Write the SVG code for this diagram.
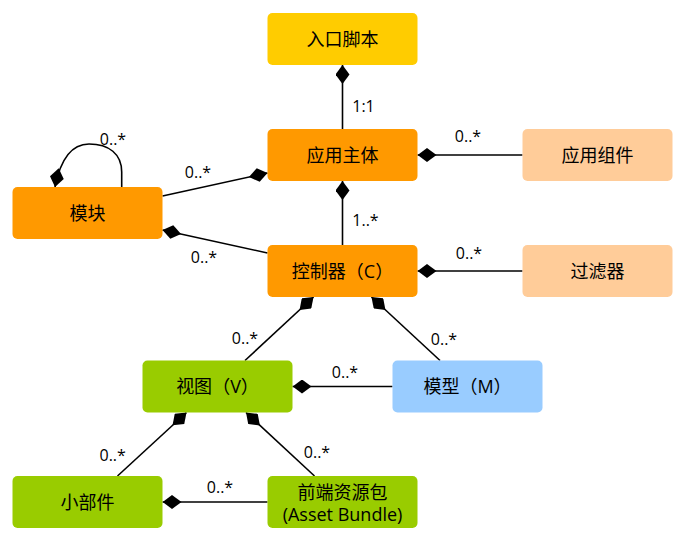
<svg xmlns="http://www.w3.org/2000/svg" width="683" height="549" viewBox="0 0 683 549">
<style>
.n text{font-family:"Open Sans","Noto Sans CJK SC",sans-serif;font-size:18px;fill:#000;text-anchor:middle}
.p{font-family:"Noto Sans CJK TC",sans-serif}
.lbl{font-family:"Open Sans","Noto Sans CJK SC",sans-serif;font-size:16px;fill:#000;text-anchor:middle}
.e{fill:none;stroke:#000;stroke-width:1.6;marker-start:url(#dia)}
</style>
<defs>
<marker id="dia" markerUnits="userSpaceOnUse" markerWidth="19" markerHeight="14" viewBox="0 0 19 14" refX="0" refY="7" orient="auto">
<path d="M0,7 L9.5,0 L19,7 L9.5,14 Z" fill="#000"/>
</marker>
</defs>
<rect width="683" height="549" fill="#fff"/>
<g id="connectors">
<path class="e" d="M342.5,65 L342.5,129"/>
<path class="e" d="M342.5,181 L342.5,245"/>
<path class="e" d="M417.5,155 L522.5,155"/>
<path class="e" d="M417.5,271 L522.5,271"/>
<path class="e" d="M55,187 C61,157 73,144 89,144 C109,144 121.7,154 121.7,172 L121.7,187"/>
<path class="e" d="M267.5,173 L162.5,196"/>
<path class="e" d="M162.5,230 L267.5,253"/>
<path class="e" d="M313.5,297 L245,360.5"/>
<path class="e" d="M371.5,297 L440,360.5"/>
<path class="e" d="M292.5,386.5 L392.5,386.5"/>
<path class="e" d="M186.5,412.5 L117.5,476"/>
<path class="e" d="M246,412.5 L314.5,476"/>
<path class="e" d="M162.5,502 L267.5,502"/>
<text class="lbl" x="363.5" y="111.5">1:1</text>
<text class="lbl" x="365.5" y="226">1..*</text>
<text class="lbl" x="468" y="141.5">0..*</text>
<text class="lbl" x="469" y="259">0..*</text>
<text class="lbl" x="113" y="144.5">0..*</text>
<text class="lbl" x="198" y="178">0..*</text>
<text class="lbl" x="204" y="262.5">0..*</text>
<text class="lbl" x="245" y="344">0..*</text>
<text class="lbl" x="444" y="345">0..*</text>
<text class="lbl" x="345" y="378">0..*</text>
<text class="lbl" x="112.7" y="460.5">0..*</text>
<text class="lbl" x="317" y="458">0..*</text>
<text class="lbl" x="220" y="493">0..*</text>
</g>
<g id="entry" class="n"><rect x="267.5" y="13" width="150" height="52" rx="5" fill="#FFCC00"/><text x="342.5" y="45.5">入口脚本</text></g>
<g id="app" class="n"><rect x="267.5" y="129" width="150" height="52" rx="5" fill="#FF9900"/><text x="342.5" y="161.5">应用主体</text></g>
<g id="appcomp" class="n"><rect x="522.5" y="129" width="150" height="52" rx="5" fill="#FFCC99"/><text x="597.5" y="161.5">应用组件</text></g>
<g id="controller" class="n"><rect x="267.5" y="245" width="150" height="52" rx="5" fill="#FF9900"/><text x="342.5" y="277.5">控制器<tspan class="p">（</tspan>C<tspan class="p">）</tspan></text></g>
<g id="filter" class="n"><rect x="522.5" y="245" width="150" height="52" rx="5" fill="#FFCC99"/><text x="597.5" y="277.5">过滤器</text></g>
<g id="module" class="n"><rect x="12.5" y="187" width="150" height="52" rx="5" fill="#FF9900"/><text x="87.5" y="219.5">模块</text></g>
<g id="view" class="n"><rect x="142.5" y="360.5" width="150" height="52" rx="5" fill="#99CC00"/><text x="217.5" y="393">视图<tspan class="p">（</tspan>V<tspan class="p">）</tspan></text></g>
<g id="model" class="n"><rect x="392.5" y="360.5" width="150" height="52" rx="5" fill="#99CCFF"/><text x="467.5" y="393">模型<tspan class="p">（</tspan>M<tspan class="p">）</tspan></text></g>
<g id="widget" class="n"><rect x="12.5" y="476" width="150" height="52" rx="5" fill="#99CC00"/><text x="87.5" y="508.5">小部件</text></g>
<g id="asset" class="n"><rect x="267.5" y="476" width="150" height="52" rx="5" fill="#99CC00"/><text x="342.5" y="499">前端资源包</text><text x="342.5" y="521">(Asset Bundle)</text></g>
</svg>
